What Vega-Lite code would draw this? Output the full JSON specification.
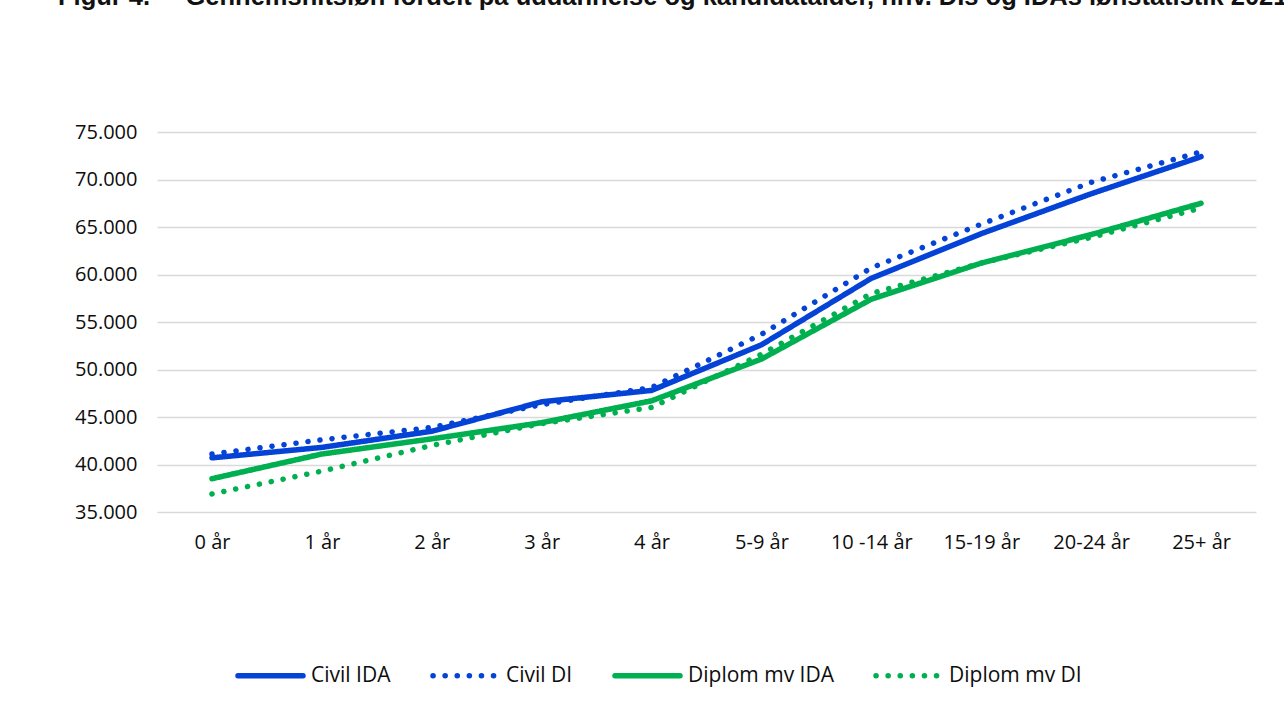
{
  "$schema": "https://vega.github.io/schema/vega-lite/v6.json",
  "width": 1099,
  "height": 380,
  "autosize": {"type": "none"},
  "padding": {"left": 157, "top": 132, "right": 28, "bottom": 195},
  "background": "white",
  "title": {
    "text": "Figur 4.\u00a0\u00a0\u00a0\u00a0\u00a0Gennemsnitsløn fordelt på uddannelse og kandidatalder, hhv. DIs og IDAs lønstatistik 2021",
    "anchor": "start",
    "frame": "group",
    "offset": 92,
    "dx": -99,
    "font": "Liberation Sans",
    "fontSize": 25.5,
    "fontWeight": "bold",
    "color": "#111111",
    "baseline": "alphabetic"
  },
  "data": {
    "values": [
      {"alder": "0 år", "serie": "Civil IDA", "loen": 40700},
      {"alder": "1 år", "serie": "Civil IDA", "loen": 41800},
      {"alder": "2 år", "serie": "Civil IDA", "loen": 43500},
      {"alder": "3 år", "serie": "Civil IDA", "loen": 46600},
      {"alder": "4 år", "serie": "Civil IDA", "loen": 47800},
      {"alder": "5-9 år", "serie": "Civil IDA", "loen": 52600},
      {"alder": "10 -14 år", "serie": "Civil IDA", "loen": 59600},
      {"alder": "15-19 år", "serie": "Civil IDA", "loen": 64300},
      {"alder": "20-24 år", "serie": "Civil IDA", "loen": 68500},
      {"alder": "25+ år", "serie": "Civil IDA", "loen": 72400},
      {"alder": "0 år", "serie": "Civil DI", "loen": 41100},
      {"alder": "1 år", "serie": "Civil DI", "loen": 42600},
      {"alder": "2 år", "serie": "Civil DI", "loen": 43900},
      {"alder": "3 år", "serie": "Civil DI", "loen": 46300},
      {"alder": "4 år", "serie": "Civil DI", "loen": 48100},
      {"alder": "5-9 år", "serie": "Civil DI", "loen": 53700},
      {"alder": "10 -14 år", "serie": "Civil DI", "loen": 60700},
      {"alder": "15-19 år", "serie": "Civil DI", "loen": 65300},
      {"alder": "20-24 år", "serie": "Civil DI", "loen": 69700},
      {"alder": "25+ år", "serie": "Civil DI", "loen": 72900},
      {"alder": "0 år", "serie": "Diplom mv IDA", "loen": 38500},
      {"alder": "1 år", "serie": "Diplom mv IDA", "loen": 41100},
      {"alder": "2 år", "serie": "Diplom mv IDA", "loen": 42700},
      {"alder": "3 år", "serie": "Diplom mv IDA", "loen": 44400},
      {"alder": "4 år", "serie": "Diplom mv IDA", "loen": 46700},
      {"alder": "5-9 år", "serie": "Diplom mv IDA", "loen": 51100},
      {"alder": "10 -14 år", "serie": "Diplom mv IDA", "loen": 57400},
      {"alder": "15-19 år", "serie": "Diplom mv IDA", "loen": 61200},
      {"alder": "20-24 år", "serie": "Diplom mv IDA", "loen": 64200},
      {"alder": "25+ år", "serie": "Diplom mv IDA", "loen": 67500},
      {"alder": "0 år", "serie": "Diplom mv DI", "loen": 36900},
      {"alder": "1 år", "serie": "Diplom mv DI", "loen": 39300},
      {"alder": "2 år", "serie": "Diplom mv DI", "loen": 42000},
      {"alder": "3 år", "serie": "Diplom mv DI", "loen": 44300},
      {"alder": "4 år", "serie": "Diplom mv DI", "loen": 46000},
      {"alder": "5-9 år", "serie": "Diplom mv DI", "loen": 51600},
      {"alder": "10 -14 år", "serie": "Diplom mv DI", "loen": 58000},
      {"alder": "15-19 år", "serie": "Diplom mv DI", "loen": 61200},
      {"alder": "20-24 år", "serie": "Diplom mv DI", "loen": 63900},
      {"alder": "25+ år", "serie": "Diplom mv DI", "loen": 67000}
    ]
  },
  "mark": {"type": "line", "strokeWidth": 5.5, "strokeCap": "round", "strokeJoin": "round"},
  "encoding": {
    "x": {
      "field": "alder",
      "type": "nominal",
      "sort": null,
      "scale": {"type": "point", "padding": 0.5},
      "axis": {
        "title": null,
        "labelAngle": 0,
        "domain": false,
        "ticks": false,
        "labelPadding": 20,
        "labelFont": "Open Sans",
        "labelFontSize": 20,
        "labelColor": "#0d0d0d"
      }
    },
    "y": {
      "field": "loen",
      "type": "quantitative",
      "scale": {"domain": [35000, 75000], "nice": false, "zero": false},
      "axis": {
        "title": null,
        "values": [35000, 40000, 45000, 50000, 55000, 60000, 65000, 70000, 75000],
        "labelExpr": "replace(format(datum.value, ','), ',', '.')",
        "domain": false,
        "ticks": false,
        "labelPadding": 20,
        "labelFont": "Open Sans",
        "labelFontSize": 20,
        "labelColor": "#0d0d0d",
        "gridColor": "#d9d9d9",
        "gridWidth": 1.5
      }
    },
    "color": {
      "field": "serie",
      "type": "nominal",
      "sort": ["Civil IDA", "Civil DI", "Diplom mv IDA", "Diplom mv DI"],
      "scale": {
        "domain": ["Civil IDA", "Civil DI", "Diplom mv IDA", "Diplom mv DI"],
        "range": ["#0443d6", "#0443d6", "#00b050", "#00b050"]
      },
      "legend": {
        "title": null,
        "orient": "none",
        "legendX": 78,
        "legendY": 508,
        "direction": "horizontal",
        "columns": 4,
        "columnPadding": 31,
        "symbolType": "stroke",
        "symbolSize": 4225,
        "symbolStrokeWidth": 5.5,
        "labelFont": "Open Sans",
        "labelFontSize": 21,
        "labelColor": "#0d0d0d",
        "labelOffset": 5,
        "encode": {"symbols": {"update": {"strokeCap": {"value": "round"}}}}
      }
    },
    "strokeDash": {
      "field": "serie",
      "type": "nominal",
      "sort": ["Civil IDA", "Civil DI", "Diplom mv IDA", "Diplom mv DI"],
      "scale": {
        "domain": ["Civil IDA", "Civil DI", "Diplom mv IDA", "Diplom mv DI"],
        "range": [[1, 0], [0.1, 12], [1, 0], [0.1, 12]]
      },
      "legend": null
    }
  },
  "config": {"view": {"stroke": null}}
}
